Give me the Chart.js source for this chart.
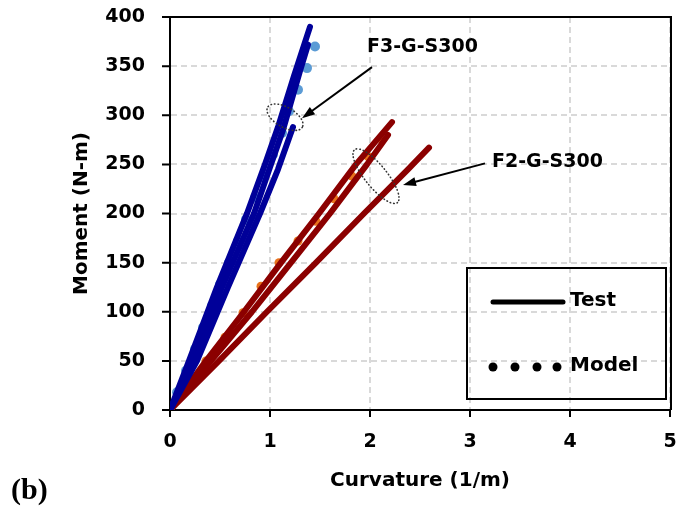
<!DOCTYPE html>
<html>
<head>
<meta charset="utf-8">
<script src="https://cdn.jsdelivr.net/npm/chart.js@4.4.1/dist/chart.umd.min.js"></script>
<style>
  html, body { margin: 0; padding: 0; background: #fff; }
</style>
</head>
<body>
<canvas id="chart" width="683" height="510"></canvas>
<script>
// ── axis ticks ──
const xTicks = [0, 1, 2, 3, 4, 5];
const yTicks = [0, 50, 100, 150, 200, 250, 300, 350, 400];

// ── F3-G-S300 test curves: curvature (1/m) / moment (N-m) ──
const f3TestA_k = [0, 0.19, 0.47, 0.77, 0.95, 1.08, 1.24, 1.40];
const f3TestA_m = [0, 50, 125, 200, 250, 288, 340, 390];
const f3TestB_k = [0, 0.24, 0.52, 0.84, 1.01, 1.13, 1.30, 1.38];
const f3TestB_m = [0, 50, 125, 200, 250, 285, 345, 372];
const f3TestC_k = [0, 0.27, 0.58, 0.90, 1.08, 1.23];
const f3TestC_m = [0, 50, 125, 200, 245, 288];

// ── F3-G-S300 model ──
const f3Model_k = [0, 0.07, 0.16, 0.25, 0.33, 0.42, 0.50, 0.59, 0.68, 0.76, 0.85, 0.94, 1.03, 1.12, 1.19, 1.28, 1.37, 1.45];
const f3Model_m = [0, 18, 40, 62, 84, 106, 128, 150, 172, 194, 216, 238, 260, 282, 304, 326, 348, 370];

// ── F2-G-S300 test curves ──
const f2TestA_k = [0, 0.36, 0.74, 1.11, 1.49, 1.86, 2.22];
const f2TestA_m = [0, 50, 100, 150, 200, 250, 293];
const f2TestB_k = [0, 0.41, 0.82, 1.21, 1.60, 1.97, 2.18];
const f2TestB_m = [0, 50, 100, 150, 200, 250, 280];
const f2TestC_k = [0, 0.49, 0.97, 1.46, 1.94, 2.38, 2.59];
const f2TestC_m = [0, 50, 100, 150, 200, 245, 267];

// ── F2-G-S300 model ──
const f2Model_k = [0, 0.18, 0.36, 0.55, 0.73, 0.91, 1.09, 1.28, 1.46, 1.64, 1.82, 1.98, 2.12];
const f2Model_m = [0, 24, 50, 74, 99, 126, 150, 172, 192, 215, 238, 258, 275];

const pts = (k, m) => k.map((v, i) => ({ x: v, y: m[i] }));

const BLUE = '#000099', RED = '#8b0000', LIGHT_BLUE = '#5b9bd5', ORANGE = '#e8721c';
const FONT = 'DejaVu Sans';

function testLine(k, m, color) {
  return {
    data: pts(k, m), showLine: true, borderColor: color, backgroundColor: color,
    borderWidth: 6, pointRadius: 0, borderCapStyle: 'round', borderJoinStyle: 'round',
    tension: 0, order: 1
  };
}
function modelDots(k, m, color, r) {
  return {
    data: pts(k, m), showLine: false, pointRadius: r, pointBackgroundColor: color,
    pointBorderWidth: 0, borderColor: color, order: 2
  };
}

/* ── callouts, frame, legend ── */
const decor = {
  id: 'decor',
  afterDraw(chart) {
    const { ctx, chartArea: a, scales: { x, y } } = chart;
    ctx.save();

    // plot frame (top/right) + outward tick marks
    ctx.strokeStyle = '#000';
    ctx.lineWidth = 2;
    ctx.beginPath();
    ctx.moveTo(a.left, a.top); ctx.lineTo(a.right + 1, a.top); ctx.lineTo(a.right + 1, a.bottom);
    ctx.stroke();
    ctx.beginPath();
    yTicks.forEach(v => { const py = y.getPixelForValue(v); ctx.moveTo(a.left - 8, py); ctx.lineTo(a.left, py); });
    xTicks.forEach(v => { const px = x.getPixelForValue(v); ctx.moveTo(px, a.bottom); ctx.lineTo(px, a.bottom + 7); });
    ctx.stroke();

    // dotted ellipse + arrow + label
    function callout(ek, em, rx, ry, rot, fromK, fromM, toK, toM, text, tk, tm) {
      const cx = x.getPixelForValue(ek), cy = y.getPixelForValue(em);
      ctx.save();
      ctx.strokeStyle = '#333';
      ctx.lineWidth = 1.6;
      ctx.lineCap = 'round';
      ctx.setLineDash([0.5, 3]);
      ctx.beginPath();
      ctx.ellipse(cx, cy, rx, ry, rot * Math.PI / 180, 0, Math.PI * 2);
      ctx.stroke();
      ctx.restore();

      const x1 = x.getPixelForValue(fromK), y1 = y.getPixelForValue(fromM);
      const x2 = x.getPixelForValue(toK), y2 = y.getPixelForValue(toM);
      const ang = Math.atan2(y2 - y1, x2 - x1);
      ctx.strokeStyle = '#000';
      ctx.fillStyle = '#000';
      ctx.lineWidth = 2;
      ctx.beginPath();
      ctx.moveTo(x1, y1);
      ctx.lineTo(x2 - 8 * Math.cos(ang), y2 - 8 * Math.sin(ang));
      ctx.stroke();
      ctx.beginPath();
      ctx.moveTo(x2, y2);
      ctx.lineTo(x2 - 13 * Math.cos(ang) + 4.5 * Math.sin(ang), y2 - 13 * Math.sin(ang) - 4.5 * Math.cos(ang));
      ctx.lineTo(x2 - 13 * Math.cos(ang) - 4.5 * Math.sin(ang), y2 - 13 * Math.sin(ang) + 4.5 * Math.cos(ang));
      ctx.closePath();
      ctx.fill();

      ctx.font = `bold 19px "${FONT}"`;
      ctx.textAlign = 'left';
      ctx.textBaseline = 'middle';
      ctx.fillText(text, x.getPixelForValue(tk), y.getPixelForValue(tm));
    }
    callout(1.15, 298, 20, 10, 30, 2.02, 349, 1.32, 297, 'F3-G-S300', 1.97, 369);
    callout(2.06, 238, 34, 11, 51, 3.15, 251, 2.33, 229, 'F2-G-S300', 3.22, 252);

    // legend box
    const bx = a.right - 203, by = a.bottom - 142;
    ctx.lineWidth = 2;
    ctx.strokeStyle = '#000';
    ctx.strokeRect(bx, by, 199, 131);
    ctx.lineWidth = 5;
    ctx.lineCap = 'round';
    ctx.beginPath();
    ctx.moveTo(bx + 26, by + 34); ctx.lineTo(bx + 96, by + 34);
    ctx.stroke();
    [26, 48, 70, 90].forEach(dx => {
      ctx.beginPath();
      ctx.arc(bx + dx, by + 99, 4.5, 0, Math.PI * 2);
      ctx.fill();
    });
    ctx.font = `bold 20px "${FONT}"`;
    ctx.textBaseline = 'middle';
    ctx.fillText('Test', bx + 103, by + 33);
    ctx.fillText('Model', bx + 103, by + 98);

    // panel tag
    ctx.font = 'bold 30px "Liberation Serif"';
    ctx.textBaseline = 'alphabetic';
    ctx.fillText('(b)', 11, 499);
    ctx.restore();
  }
};

const tickFont = { family: FONT, weight: 'bold', size: 19 };
const titleFont = { family: FONT, weight: 'bold', size: 20 };

new Chart(document.getElementById('chart'), {
  type: 'scatter',
  data: {
    datasets: [
      testLine(f3TestA_k, f3TestA_m, BLUE),
      testLine(f3TestB_k, f3TestB_m, BLUE),
      testLine(f3TestC_k, f3TestC_m, BLUE),
      testLine(f2TestA_k, f2TestA_m, RED),
      testLine(f2TestB_k, f2TestB_m, RED),
      testLine(f2TestC_k, f2TestC_m, RED),
      modelDots(f3Model_k, f3Model_m, LIGHT_BLUE, 5),
      modelDots(f2Model_k, f2Model_m, ORANGE, 4.5)
    ]
  },
  options: {
    responsive: false,
    animation: false,
    layout: { padding: { top: 17, right: 13, left: 0, bottom: 0 } },
    plugins: { legend: { display: false }, tooltip: { enabled: false } },
    scales: {
      x: {
        type: 'linear', min: 0, max: 5,
        ticks: { stepSize: 1, color: '#000', font: tickFont, padding: 0 },
        grid: { color: '#d9d9d9', lineWidth: 2, drawTicks: true, tickLength: 21, tickColor: 'rgba(0,0,0,0)' },
        border: { display: true, color: '#000', width: 2, dash: [6, 4] },
        title: { display: true, text: 'Curvature (1/m)', color: '#000', font: titleFont, padding: { top: 0, bottom: 17 } },
        afterFit: s => { s.height = 100; }
      },
      y: {
        type: 'linear', min: 0, max: 400,
        ticks: { stepSize: 50, color: '#000', font: tickFont, padding: 0 },
        grid: { color: '#d9d9d9', lineWidth: 2, drawTicks: true, tickLength: 25, tickColor: 'rgba(0,0,0,0)' },
        border: { display: true, color: '#000', width: 2, dash: [6, 4] },
        title: { display: true, text: 'Moment (N-m)', color: '#000', font: titleFont, padding: { top: 70, bottom: 0 } },
        afterFit: s => { s.width = 170; }
      }
    }
  },
  plugins: [decor]
});
</script>
</body>
</html>
